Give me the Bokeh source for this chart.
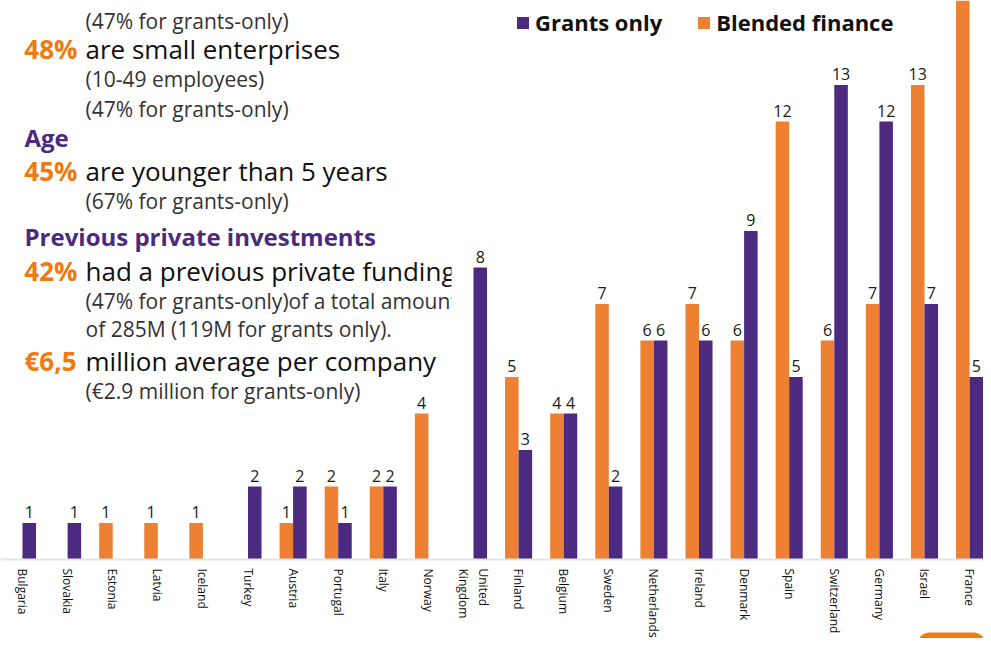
import math
from bokeh.plotting import figure
from bokeh.models import Range1d, Label, Legend, LegendItem, ColumnDataSource, Span, BoxAnnotation
from bokeh.core.properties import value
from bokeh.embed import file_html
from bokeh.resources import INLINE

countries = ["Bulgaria", "Slovakia", "Estonia", "Latvia", "Iceland", "Turkey", "Austria",
             "Portugal", "Italy", "Norway", "United\nKingdom", "Finland", "Belgium", "Sweden",
             "Netherlands", "Ireland", "Denmark", "Spain", "Switzerland", "Germany", "Israel", "France"]
grants_only = [1, 1, 0, 0, 0, 2, 2, 1, 2, 0, 8, 3, 4, 2, 6, 6, 9, 5, 13, 12, 7, 5]
blended_finance = [0, 0, 1, 1, 1, 0, 1, 2, 2, 4, 0, 5, 4, 7, 6, 7, 6, 12, 6, 7, 13, 16]

PURPLE = "#4b2a80"
ORANGE = "#ee8033"
PCT = "#ee7a12"
FONT = "Open Sans"

W, H = 983, 638
SX = 45.1   # px per category
SY = 36.5   # px per unit

# pixel -> data helpers for placing the infographic texts
def X(px):
    return (px - 22) / SX

def Y(py):
    return (559 - py) / SY

p = figure(width=W, height=H, x_range=Range1d(X(0), X(W)), y_range=Range1d(Y(H), Y(0)),
           output_backend="svg", toolbar_location=None, x_axis_location=None, y_axis_location=None,
           min_border_left=0, min_border_right=0, min_border_top=0, min_border_bottom=0)
p.outline_line_color = None
p.xgrid.visible = False
p.ygrid.visible = False
p.background_fill_color = "white"
p.border_fill_color = "white"

idx = list(range(len(countries)))
bw = 0.3
src = ColumnDataSource(dict(x=idx, g=grants_only, b=blended_finance,
                            xg=[i + bw / 2 for i in idx], xb=[i - bw / 2 for i in idx]))
rb = p.vbar(x="xb", top="b", width=bw, source=src, fill_color=ORANGE, line_color=None)
rg = p.vbar(x="xg", top="g", width=bw, source=src, fill_color=PURPLE, line_color=None)

# baseline
p.add_layout(Span(location=0, dimension="width", line_color="#e6e6e6", line_width=2))

# value labels (only those inside the visible range)
ytop = Y(0)
lx, ly, lt = [], [], []
for i in idx:
    if 0 < blended_finance[i] < ytop - 0.7:
        lx.append(i - bw / 2); ly.append(blended_finance[i]); lt.append(str(blended_finance[i]))
    if 0 < grants_only[i] < ytop - 0.7:
        lx.append(i + bw / 2); ly.append(grants_only[i]); lt.append(str(grants_only[i]))
p.text(x=lx, y=ly, text=lt, text_align="center", text_baseline="bottom", y_offset=-5,
       text_font=value(FONT), text_font_size="16px", text_color="#1a1a1a")

# category labels, rotated, below the baseline
p.text(x=idx, y=[0] * len(idx), text=countries, angle=-math.pi / 2, text_align="left",
       text_baseline="middle", y_offset=9, text_font=value(FONT), text_font_size="12px",
       text_color="#111111", text_line_height=1.2)

legend = Legend(items=[LegendItem(label="Grants only", renderers=[rg]),
                       LegendItem(label="Blended finance", renderers=[rb])],
                orientation="horizontal", location=(505, 591),
                label_text_font=FONT, label_text_font_size="22px", label_text_font_style="bold",
                label_text_color="#111111", glyph_width=15, glyph_height=15, spacing=34,
                background_fill_alpha=0, border_line_alpha=0)
p.add_layout(legend)

SUB = dict(text_font=FONT, text_font_size="21px", text_color="#333333", text_baseline="middle")
BIG = dict(text_font=FONT, text_font_size="26px", text_color="#111111", text_baseline="middle")
PCTS = dict(text_font=FONT, text_font_size="26px", text_font_style="bold", text_color=PCT,
            text_baseline="middle", text_align="right")
HEAD = dict(text_font=FONT, text_font_size="24px", text_font_style="bold", text_color="#4b2a80",
            text_baseline="middle")

texts = [
    ("(47% for grants-only)", 85, 20, SUB),
    ("48%", 77, 48, PCTS),
    ("are small enterprises", 85, 48, BIG),
    ("(10-49 employees)", 85, 78, SUB),
    ("(47% for grants-only)", 85, 108, SUB),
    ("Age", 24, 137, HEAD),
    ("45%", 77, 170, PCTS),
    ("are younger than 5 years", 85, 170, BIG),
    ("(67% for grants-only)", 85, 200, SUB),
    ("Previous private investments", 24, 236, HEAD),
    ("42%", 77, 270, PCTS),
    ("had a previous private funding", 85, 270, BIG),
    ("(47% for grants-only)of a total amount", 85, 300, SUB),
    ("of 285M (119M for grants only).", 85, 328, SUB),
    ("€6,5", 76, 360, PCTS),
    ("million average per company", 85, 360, BIG),
    ("(€2.9 million for grants-only)", 85, 390, SUB),
]
for t, px, py, st in texts:
    p.add_layout(Label(x=X(px), y=Y(py), text=t, **st))

# text box edge that cuts the long lines
p.add_layout(BoxAnnotation(left=X(451), right=X(470), top=Y(255), bottom=Y(312),
                           fill_color="white", fill_alpha=1, line_color=None, level="overlay"))

# orange corner tab at the bottom right
p.add_layout(BoxAnnotation(left=X(917), right=X(985), top=Y(632), bottom=Y(660),
                           fill_color="#ef7a10", fill_alpha=1, line_color=None, border_radius=12))

html = file_html(p, INLINE)
open("out.html", "w").write(html)
